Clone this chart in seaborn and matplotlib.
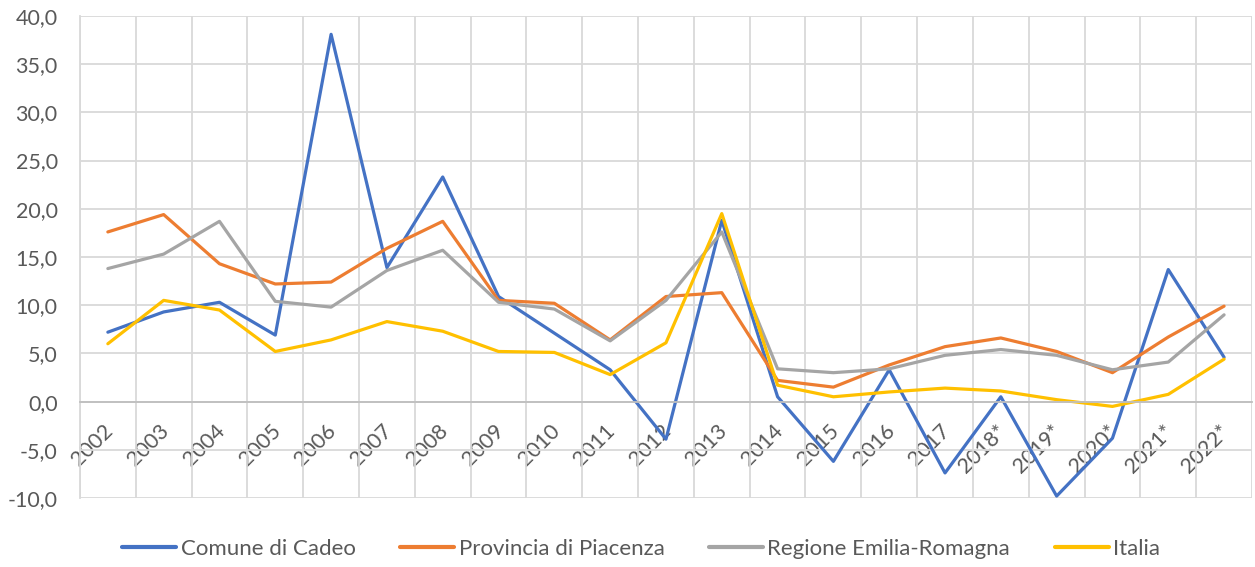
import pandas as pd
import matplotlib.pyplot as plt
import matplotlib.ticker as mticker
import matplotlib.transforms as mtransforms
import seaborn as sns

# Values
years = ['2002', '2003', '2004', '2005', '2006', '2007', '2008', '2009', '2010', '2011',
         '2012', '2013', '2014', '2015', '2016', '2017', '2018*', '2019*', '2020*', '2021*', '2022*']
cadeo = [7.2, 9.3, 10.3, 6.9, 38.1, 13.9, 23.3, 10.9, 7.1, 3.3,
         -3.9, 18.8, 0.5, -6.2, 3.3, -7.4, 0.5, -9.8, -3.8, 13.7, 4.6]
piacenza = [17.6, 19.4, 14.3, 12.2, 12.4, 15.9, 18.7, 10.5, 10.2, 6.4,
            10.9, 11.3, 2.2, 1.5, 3.8, 5.7, 6.6, 5.2, 3.0, 6.7, 9.9]
emilia = [13.8, 15.3, 18.7, 10.4, 9.8, 13.6, 15.7, 10.3, 9.6, 6.3,
          10.5, 17.6, 3.4, 3.0, 3.4, 4.8, 5.4, 4.8, 3.3, 4.1, 9.0]
italia = [6.0, 10.5, 9.5, 5.2, 6.4, 8.3, 7.3, 5.2, 5.1, 2.8,
          6.1, 19.5, 1.7, 0.5, 1.0, 1.4, 1.1, 0.2, -0.5, 0.75, 4.4]

series = {
    'Comune di Cadeo': cadeo,
    'Provincia di Piacenza': piacenza,
    'Regione Emilia-Romagna': emilia,
    'Italia': italia,
}
colors = ['#4472C4', '#ED7D31', '#A5A5A5', '#FFC000']

rows = []
for name, vals in series.items():
    for i, v in enumerate(vals):
        rows.append({'pos': i, 'anno': years[i], 'serie': name, 'valore': v})
df = pd.DataFrame(rows)

sns.set_style('white')
plt.rcParams['font.family'] = ['Lato', 'DejaVu Sans']

fig = plt.figure(figsize=(12.55, 5.67), dpi=100)
ax = fig.add_axes([0.0637, 0.1217, 0.9339, 0.8501])

sns.lineplot(data=df, x='pos', y='valore', hue='serie', palette=colors,
             linewidth=2.3, sort=False, ax=ax)

ax.set_xlim(-0.5, len(years) - 0.5)
ax.set_ylim(-10, 40)
ax.set_xlabel('')
ax.set_ylabel('')

# horizontal gridlines, vertical gridlines between categories
ax.yaxis.set_major_locator(mticker.MultipleLocator(5))
ax.yaxis.set_major_formatter(mticker.FuncFormatter(lambda v, p: f'{v:.1f}'.replace('.', ',')))
ax.xaxis.set_major_locator(mticker.FixedLocator(range(len(years))))
ax.xaxis.set_minor_locator(mticker.FixedLocator([i - 0.5 for i in range(len(years) + 1)]))
ax.grid(True, which='major', axis='y', color='#D9D9D9', linewidth=1.3)
ax.grid(True, which='minor', axis='x', color='#D9D9D9', linewidth=1.3)
ax.set_axisbelow(True)

for s in ['top', 'right']:
    ax.spines[s].set_visible(False)
ax.spines['left'].set_color('#D9D9D9')
ax.spines['left'].set_linewidth(1.3)
ax.spines['bottom'].set_position(('data', 0))
ax.spines['bottom'].set_color('#BFBFBF')
ax.spines['bottom'].set_linewidth(1.3)

ax.tick_params(axis='both', which='both', length=0)
ax.tick_params(axis='y', labelsize=15.5, labelcolor='#595959', pad=16)
ax.set_xticklabels(years, rotation=45, ha='right', va='top',
                   rotation_mode='anchor', fontsize=15.5, color='#595959')
ax.tick_params(axis='x', pad=14)
shift = mtransforms.ScaledTranslation(-3.6 / 72, 0, fig.dpi_scale_trans)
for lab in ax.get_xticklabels():
    lab.set_transform(lab.get_transform() + shift)

handles, labels = ax.get_legend_handles_labels()
ax.get_legend().remove()
leg = fig.legend(handles, labels, loc='center', bbox_to_anchor=(0.511, 1 - 549 / 567), ncol=4,
                 frameon=False, fontsize=16, handlelength=2.43, handletextpad=0.2,
                 columnspacing=2.0)
for t in leg.get_texts():
    t.set_color('#595959')
for h in leg.get_lines():
    h.set_linewidth(3)

fig.savefig('out.png', dpi=100)
